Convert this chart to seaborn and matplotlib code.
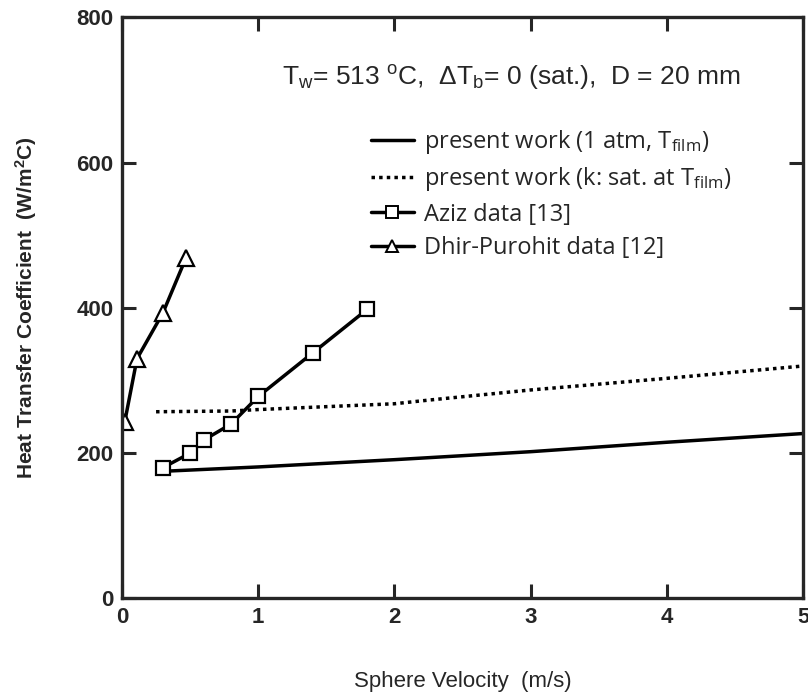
import numpy as np
import pandas as pd
import matplotlib
matplotlib.use("Agg")
import matplotlib.pyplot as plt
import seaborn as sns
from matplotlib.lines import Line2D

# --- dados ---
vel_pres = [0.3, 1.0, 2.0, 3.0, 4.0, 5.0]
h_pres_1atm = [175, 181, 191, 202, 215, 227]

vel_sat = [0.25, 0.8, 1.0, 2.0, 2.25, 3.0, 4.0, 5.0]
h_pres_sat = [257, 258, 260, 268, 273, 287, 303, 320]

vel_aziz = [0.3, 0.5, 0.6, 0.8, 1.0, 1.4, 1.8]
h_aziz = [180, 200, 218, 240, 278, 338, 398]

vel_dhir = [0.02, 0.11, 0.30, 0.47]
h_dhir = [243, 330, 393, 469]

x_ticks = [0, 1, 2, 3, 4, 5]
y_ticks = [0, 200, 400, 600, 800]

sns.set_style("ticks")
plt.rcParams['font.family'] = ['Liberation Sans', 'DejaVu Sans']
plt.rcParams['mathtext.fontset'] = 'custom'
plt.rcParams['mathtext.rm'] = 'Liberation Sans'
plt.rcParams['mathtext.it'] = 'Liberation Sans'
plt.rcParams['mathtext.bf'] = 'Liberation Sans:bold'

fig = plt.figure(figsize=(8.08, 6.95), dpi=100)
ax = fig.add_axes([0.151, 0.139, 0.843, 0.836])

lw = 2.5
sns.lineplot(x=vel_pres, y=h_pres_1atm, ax=ax, color='black', lw=lw)
sns.lineplot(x=vel_sat, y=h_pres_sat, ax=ax, color='black', lw=lw,
             linestyle=(0, (1, 1.2)))
sns.lineplot(x=vel_aziz, y=h_aziz, ax=ax, color='black', lw=lw, marker='s',
             markersize=10, markerfacecolor='white', markeredgecolor='black',
             markeredgewidth=1.6)
sns.lineplot(x=vel_dhir, y=h_dhir, ax=ax, color='black', lw=lw, marker='^',
             markersize=11, markerfacecolor='white', markeredgecolor='black',
             markeredgewidth=1.6)

ax.set_xlim(0, 5)
ax.set_ylim(0, 800)
ax.set_xticks(x_ticks)
ax.set_yticks(y_ticks)
ax.tick_params(direction='in', length=10, width=2.2, top=True, right=True,
               labelsize=16, pad=6)
for lab in ax.get_xticklabels() + ax.get_yticklabels():
    lab.set_fontweight('bold')
for sp in ax.spines.values():
    sp.set_linewidth(2.4)
    sp.set_visible(True)

ax.set_xlabel('Sphere Velocity  (m/s)', fontsize=16, labelpad=31)
ax.set_ylabel('Heat Transfer Coefficient  (W/m$^\\mathbf{2}$C)', fontsize=15,
              fontweight='bold', labelpad=27)

# anotação das condições
ax.text(0.235, 0.897,
        r'T$_\mathregular{w}$= 513 $^\mathregular{o}$C,  $\Delta$T$_\mathregular{b}$= 0 (sat.),  D = 20 mm',
        transform=ax.transAxes, fontsize=19, va='center', ha='left')

handles = [
    Line2D([], [], color='black', lw=lw),
    Line2D([], [], color='black', lw=lw, linestyle=(0, (1, 1.2))),
    Line2D([], [], color='black', lw=lw, marker='s', markersize=9,
           markerfacecolor='white', markeredgewidth=1.4),
    Line2D([], [], color='black', lw=lw, marker='^', markersize=9,
           markerfacecolor='white', markeredgewidth=1.4),
]
labels = [
    r'present work (1 atm, T$_\mathregular{film}$)',
    r'present work (k: sat. at T$_\mathregular{film}$)',
    'Aziz data [13]',
    'Dhir-Purohit data [12]',
]
leg = ax.legend(handles, labels, loc='upper left', bbox_to_anchor=(0.365, 0.81),
                frameon=False, handlelength=1.85, handletextpad=0.4,
                labelspacing=0.4, borderpad=0, borderaxespad=0, numpoints=1,
                prop={'family': 'Open Sans', 'size': 17})

fig.savefig('out.png', dpi=100)
